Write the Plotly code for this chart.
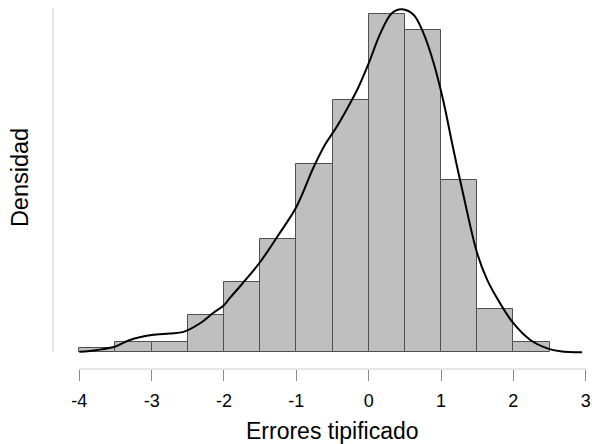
import plotly.graph_objects as go

# Histogram of standardized residuals (density scale), bins of width 0.5
bin_left = [-4.0, -3.5, -3.0, -2.5, -2.0, -1.5, -1.0, -0.5, 0.0, 0.5, 1.0, 1.5, 2.0]
bin_density = [0.006, 0.013, 0.013, 0.048, 0.089, 0.144, 0.240, 0.321,
               0.431, 0.411, 0.219, 0.055, 0.013]
bin_width = 0.5

# Kernel density estimate
kde_x = [-4.0, -3.75, -3.5, -3.3, -3.0, -2.75, -2.56, -2.33, -2.15, -2.0,
         -1.92, -1.75, -1.5, -1.25, -1.0, -0.76, -0.6, -0.45, -0.3, -0.15,
         0.0, 0.16, 0.32, 0.46, 0.62, 0.76, 0.90, 1.03, 1.17, 1.31, 1.5,
         1.64, 1.82, 2.0, 2.23, 2.47, 2.65, 2.95]
kde_y = [0.0006, 0.003, 0.0074, 0.0157, 0.022, 0.024, 0.026, 0.037, 0.050, 0.060,
         0.069, 0.087, 0.115, 0.149, 0.185, 0.236, 0.265, 0.286, 0.310, 0.336,
         0.368, 0.406, 0.432, 0.437, 0.430, 0.406, 0.368, 0.321, 0.259, 0.200, 0.126,
         0.092, 0.062, 0.037, 0.016, 0.005, 0.0013, 0.0]

x_ticks = [-4, -3, -2, -1, 0, 1, 2, 3]

FONT = "Liberation Sans, Arial, sans-serif"

fig = go.Figure()
fig.add_trace(go.Bar(
    x=[b + bin_width / 2 for b in bin_left],
    y=bin_density,
    width=bin_width,
    marker=dict(color="#bfbfbf", line=dict(color="#505050", width=1)),
    showlegend=False,
    hoverinfo="skip",
))
fig.add_trace(go.Scatter(
    x=kde_x, y=kde_y, mode="lines",
    line=dict(color="black", width=2, shape="spline", smoothing=1.0),
    showlegend=False,
    hoverinfo="skip",
))

# x-axis line spanning the first to last tick
fig.add_shape(type="line", xref="x", yref="paper",
              x0=x_ticks[0], x1=x_ticks[-1], y0=0, y1=0,
              line=dict(color="#cccccc", width=1))
# y-axis line, no ticks
fig.add_shape(type="line", xref="paper", yref="y",
              x0=-0.0132, x1=-0.0132, y0=0, y1=0.4386,
              line=dict(color="#cccccc", width=1))

fig.add_annotation(text="Densidad", xref="paper", yref="paper",
                   x=-0.0752, y=0.52, textangle=-90, showarrow=False,
                   xanchor="center", yanchor="middle",
                   font=dict(family=FONT, size=23.5, color="black"))
fig.add_annotation(text="Errores tipificado", xref="paper", yref="paper",
                   x=0.513, y=-0.168, showarrow=False,
                   xanchor="center", yanchor="middle",
                   font=dict(family=FONT, size=23, color="black"))

fig.update_layout(
    width=592, height=444,
    margin=dict(l=60, r=0, t=0, b=75),
    paper_bgcolor="white", plot_bgcolor="white",
    bargap=0,
    font=dict(family=FONT, color="black"),
    xaxis=dict(range=[-4.2668, 3.0871], tickvals=x_ticks,
               ticktext=[str(t) for t in x_ticks],
               ticks="outside", ticklen=11, tickcolor="#888888", tickwidth=1,
               ticklabelstandoff=4,
               showline=False, showgrid=False, zeroline=False,
               tickfont=dict(family=FONT, size=18, color="black")),
    yaxis=dict(range=[-0.0213, 0.4488], visible=False,
               showgrid=False, zeroline=False),
)

fig.write_html("out.html")
